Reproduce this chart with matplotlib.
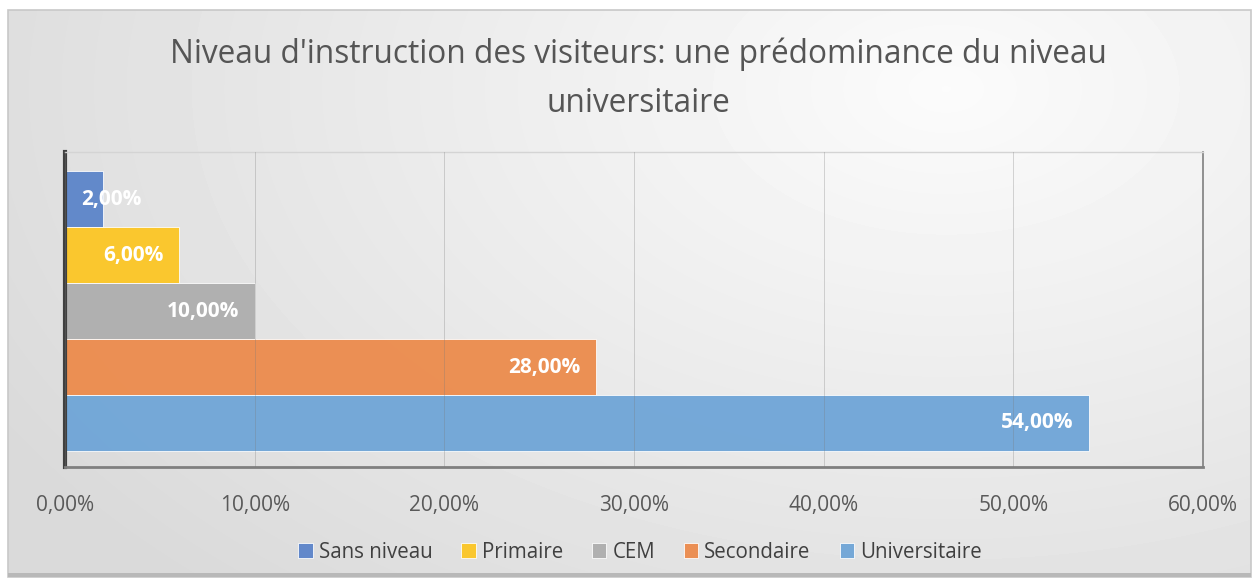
import numpy as np
import matplotlib.pyplot as plt
from matplotlib.patches import Rectangle

# data
categories = ['Sans niveau', 'Primaire', 'CEM', 'Secondaire', 'Universitaire']
values = [2.0, 6.0, 10.0, 28.0, 54.0]
colors = ['#5b84c9', '#fcc624', '#aeaeae', '#ec8b4c', '#6fa5d7']
xticks = [0, 10, 20, 30, 40, 50, 60]
title = "Niveau d'instruction des visiteurs: une prédominance du niveau\nuniversitaire"

W, H = 1257, 583
fig = plt.figure(figsize=(W / 100, H / 100), dpi=100)
fig.patch.set_facecolor('white')

# background gradient panel
bg = fig.add_axes([0, 0, 1, 1], zorder=-2)
bg.set_xlim(0, W)
bg.set_ylim(H, 0)
bg.axis('off')
xx, yy = np.meshgrid(np.linspace(0, W, 300), np.linspace(0, H, 150))
d = np.sqrt(((xx - 950) / 1100) ** 2 + ((yy - 80) / 700) ** 2)
shade = 0.985 - 0.13 * np.clip(d, 0, 1)
bg.imshow(shade, cmap='gray', vmin=0, vmax=1, extent=[8, W - 6, H - 6, 10],
          aspect='auto', interpolation='bilinear')
bg.add_patch(Rectangle((8, 10), W - 14, H - 16, fill=False, ec='#c8c8c8', lw=1.2))
bg.add_patch(Rectangle((8, H - 10), W - 14, 4, color='#b8b8b8', lw=0))

fig.text(0.508, 1 - 79 / H, title, ha='center', va='center', fontsize=22.8,
         color='#555555', family='Open Sans', linespacing=1.65)

ax = fig.add_axes([65 / W, (H - 467) / H, (1203 - 65) / W, (467 - 152) / H])
ax.set_facecolor('none')

pos = np.arange(len(categories))[::-1]
for p, v, c, name in zip(pos, values, colors, categories):
    ax.barh(p, v, height=1.0, color=c, alpha=0.95, ec='#ffffff', lw=0.6,
            label=name, zorder=2)
    lbl = f"{v:.2f}%".replace('.', ',')
    if v < 4:
        ax.annotate(lbl, (0, p), xytext=(12, 0), textcoords='offset points',
                    ha='left', va='center', color='white', fontsize=15,
                    fontweight='bold', family='Open Sans', zorder=3)
    else:
        ax.annotate(lbl, (v, p), xytext=(-11, 0), textcoords='offset points',
                    ha='right', va='center', color='white', fontsize=15,
                    fontweight='bold', family='Open Sans', zorder=3)

ax.set_xlim(0, 60)
ax.set_ylim(-0.786, 4.84)
ax.set_xticks(xticks)
ax.set_xticklabels([f"{t:.2f}%".replace('.', ',') for t in xticks],
                   fontsize=15, color='#595959', family='Open Sans')
ax.set_yticks([])
ax.tick_params(axis='x', length=0, pad=20)
ax.grid(axis='x', color='#cfcfcf', lw=1.0, zorder=1)
ax.grid(axis='x', color='#7a7a7a', lw=0.6, zorder=2.5, alpha=0.35)
ax.set_axisbelow(False)

ax.spines['left'].set_color('#404040')
ax.spines['left'].set_linewidth(3)
ax.spines['bottom'].set_color('#7f7f7f')
ax.spines['bottom'].set_linewidth(2)
ax.spines['top'].set_color('#d4d4d4')
ax.spines['top'].set_linewidth(1)
ax.spines['right'].set_color('#7f7f7f')
ax.spines['right'].set_linewidth(1.2)

leg = ax.legend(loc='center', bbox_to_anchor=(0.5 + 6 / (1203 - 65), -(552 - 467) / (467 - 152)),
                ncol=5, frameon=False, handlelength=0.7, handleheight=0.7,
                handletextpad=0.3, columnspacing=1.4,
                prop={'family': 'Open Sans', 'size': 14.8})
for t in leg.get_texts():
    t.set_color('#404040')

fig.savefig('out.png', dpi=100)
